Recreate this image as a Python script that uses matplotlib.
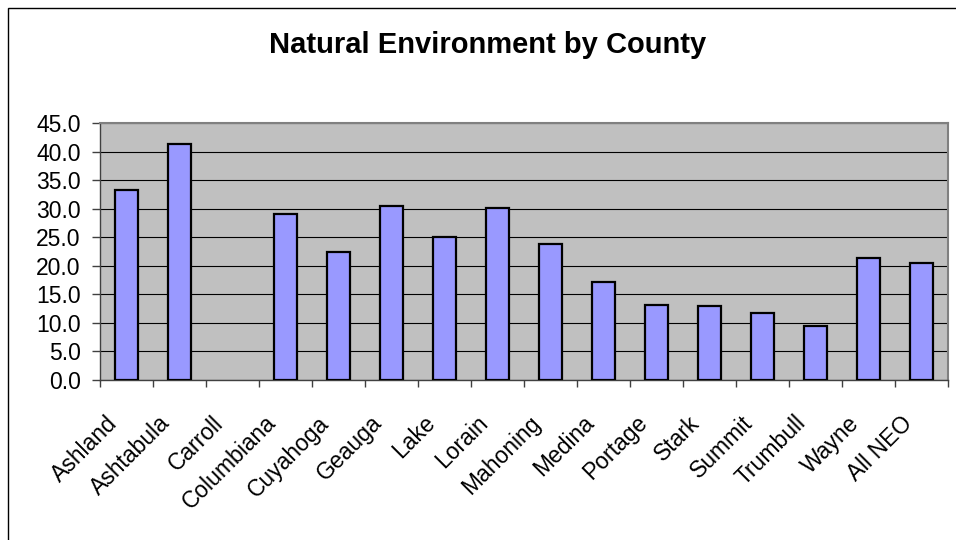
import numpy as np
import matplotlib.pyplot as plt
from matplotlib.patches import Rectangle
import matplotlib.transforms as mtrans

plt.rcParams['font.family'] = ['Liberation Sans', 'DejaVu Sans']

counties = ['Ashland', 'Ashtabula', 'Carroll', 'Columbiana', 'Cuyahoga', 'Geauga',
            'Lake', 'Lorain', 'Mahoning', 'Medina', 'Portage', 'Stark', 'Summit',
            'Trumbull', 'Wayne', 'All NEO']
# Carroll has no value in the chart
values = [33.3, 41.4, np.nan, 29.0, 22.4, 30.4, 25.0, 30.1, 23.9, 17.1, 13.1, 13.0,
          11.7, 9.5, 21.4, 20.4]
yticks = np.arange(0, 50, 5)

fig = plt.figure(figsize=(9.56, 5.4), dpi=100)
W, H = 956, 540

# outer chart frame (cut off at right and bottom)
fig.patches.append(Rectangle((8 / W, -0.1), 1.2, (540 - 8) / H + 0.1, transform=fig.transFigure,
                             fill=False, edgecolor='black', linewidth=1.0))

ax = fig.add_axes([100 / W, (540 - 380) / H, 848 / W, 257 / H])
ax.set_facecolor('#C0C0C0')

x = np.arange(len(counties))
ax.bar(x, values, width=0.42, color='#9999FF', edgecolor='black', linewidth=1.6, zorder=3)

ax.set_xlim(-0.5, len(counties) - 0.5)
ax.set_ylim(0, 45)
ax.set_yticks(yticks)
ax.set_yticklabels(['%.1f' % v for v in yticks], fontsize=16.5)
ax.yaxis.grid(True, color='black', linewidth=0.8, zorder=1)
ax.set_axisbelow(True)

# ticks between categories, labels at centres
ax.set_xticks(x)
ax.set_xticklabels(counties, rotation=45, ha='right', va='center', rotation_mode='anchor',
                   fontsize=16.5)
ax.tick_params(axis='x', which='major', length=0, pad=28.5)
shift = mtrans.ScaledTranslation(-13 / 100, 0, fig.dpi_scale_trans)
for lab in ax.get_xticklabels():
    lab.set_transform(lab.get_transform() + shift)
ax.set_xticks(np.arange(-0.5, len(counties), 1), minor=True)
ax.tick_params(axis='x', which='minor', length=5, color='#404040', width=1)
ax.tick_params(axis='y', length=5.8, color='#404040', width=1, pad=8)

for side in ['top', 'right']:
    ax.spines[side].set_color('#808080')
    ax.spines[side].set_linewidth(1.5)
ax.spines['left'].set_color('#404040')
ax.spines['bottom'].set_color('#404040')
ax.spines['left'].set_linewidth(1.0)
ax.spines['bottom'].set_linewidth(1.0)

fig.text(488 / W, 1 - 45 / H, 'Natural Environment by County', ha='center', va='center',
         fontsize=21, fontweight='bold')

fig.savefig('out.png', dpi=100)
